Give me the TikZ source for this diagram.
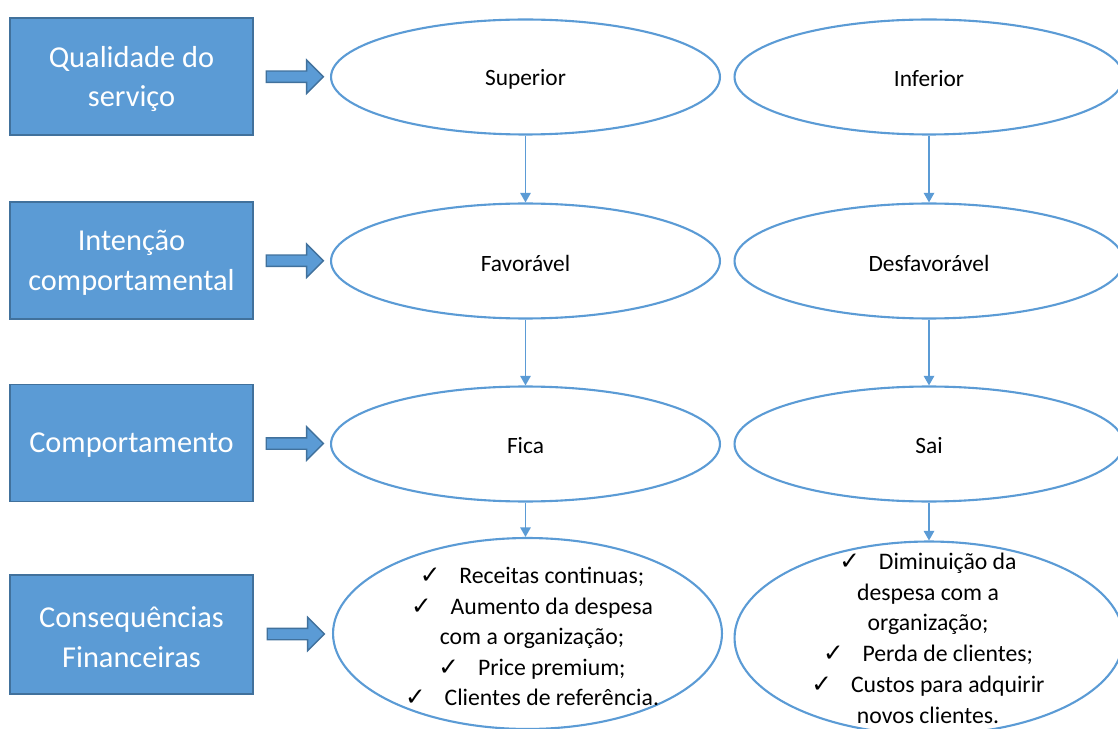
\documentclass[tikz,border=0pt]{standalone}
\usepackage{fontspec}
\setmainfont{Carlito}
\newfontfamily\symfont{DejaVu Sans}
\usetikzlibrary{arrows.meta, positioning, calc, shapes.geometric, shapes.arrows}
\definecolor{boxblue}{HTML}{5B9BD5}
\definecolor{boxedge}{HTML}{41719C}
\newcommand{\ok}{{\symfont\fontsize{14}{14}\selectfont ✓}\hspace{0.8em}}

\begin{document}
\begin{tikzpicture}[
  x=0.02cm, y=-0.02cm,
  block/.style = {draw=boxedge, fill=boxblue, line width=1pt, minimum height=2.34cm, minimum width=4.86cm, align=center, text=white, font=\fontsize{17.3}{22.7}\selectfont},
  oval/.style = {draw=boxblue, ellipse, line width=1.2pt, inner sep=0pt, minimum width=7.78cm, minimum height=2.3cm},
  bigoval/.style = {oval, minimum height=3.82cm},
  txt/.style = {align=center, font=\fontsize{13.3}{17.3}\selectfont},
  fat/.style = {single arrow, draw=boxedge, fill=boxblue, line width=0.8pt, minimum height=1.14cm, single arrow head extend=0.22cm, inner sep=0.1cm},
  arrow/.style = {boxblue, line width=0.9pt, -{Triangle[width=6pt,length=5.5pt]}}
]
  \useasboundingbox (0,0) rectangle (1118,729);

  % Left column
  \node[block] (qual) at (131.5,76.5) {};
  \node[block] (int) at (131.5,260.5) {};
  \node[block] (comp) at (131.5,443) {};
  \node[block, minimum height=2.38cm] (cons) at (131.5,634.5) {};
  \node[block, draw=none, fill=none, yshift=-0.05cm] at (qual) {Qualidade do\\serviço};
  \node[block, draw=none, fill=none, yshift=-0.05cm] at (int) {Intenção\\comportamental};
  \node[block, draw=none, fill=none, yshift=-0.05cm] at (comp) {Comportamento};
  \node[block, draw=none, fill=none, yshift=-0.05cm] at (cons) {Consequências\\Financeiras};

  % Ovals
  \node[oval] (sup) at (525.5,77) {};
  \node[oval] (inf) at (929,77) {};
  \node[oval] (fav) at (525.5,261) {};
  \node[oval] (desf) at (929,261) {};
  \node[oval] (fica) at (525.5,444) {};
  \node[oval] (sai) at (929,444) {};
  \node[bigoval] (ganho) at (527.5,633.5) {};
  \node[bigoval, minimum height=3.86cm] (perda) at (929,638) {};

  \node[txt] at (525.5,79) {Superior};
  \node[txt] at (929,79) {Inferior};
  \node[txt] at (525.5,263) {Favorável};
  \node[txt] at (929,263) {Desfavorável};
  \node[txt] at (525.5,446) {Fica};
  \node[txt] at (929,446) {Sai};
  \node[txt, font=\fontsize{13.5}{17.3}\selectfont] (ganhotxt) at (532,636.5) {\ok Receitas continuas;\\\ok Aumento da despesa\\com a organização;\\\ok Price premium;\\\ok Clientes de referência.};
  \node[txt, font=\fontsize{13.5}{17.5}\selectfont] (perdatxt) at (928,638) {\ok Diminuição da\\despesa com a\\organização;\\\ok Perda de clientes;\\\ok Custos para adquirir\\novos clientes.};

  % Block arrows
  \foreach \a/\b in {qual/sup, int/fav, comp/fica, cons/ganho} {
    \node[fat] (\a-\b) at ($(\a.east)!0.5!(\b.west)$) {};
  }

  % Down arrows
  \draw[arrow] (sup) -- (fav);
  \draw[arrow] (inf) -- (desf);
  \draw[arrow] (fav) -- (fica);
  \draw[arrow] (desf) -- (sai);
  \draw[arrow] (fica.south) -- (ganho.north -| fica.south);
  \draw[arrow] (sai.south) -- (perda.north -| sai.south);

\end{tikzpicture}
\end{document}
